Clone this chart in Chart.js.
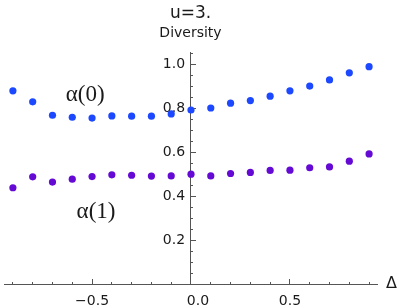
<!DOCTYPE html>
<html>
<head>
<meta charset="utf-8">
<script src="https://cdn.jsdelivr.net/npm/chart.js@4.4.0/dist/chart.umd.min.js"></script>
<style>
  html, body { margin: 0; padding: 0; background: #fff; }
  .chart-box { width: 399px; height: 308px; }
</style>
</head>
<body>
<div class="chart-box"><canvas id="chart"></canvas></div>
<script>
// values
const deltas = [-0.9, -0.8, -0.7, -0.6, -0.5, -0.4, -0.3, -0.2, -0.1, 0.0, 0.1, 0.2, 0.3, 0.4, 0.5, 0.6, 0.7, 0.8, 0.9];
const alpha0 = [0.879, 0.829, 0.768, 0.759, 0.755, 0.765, 0.764, 0.764, 0.774, 0.792, 0.801, 0.823, 0.835, 0.855, 0.879, 0.901, 0.929, 0.961, 0.989];
const alpha1 = [0.438, 0.488, 0.464, 0.477, 0.489, 0.497, 0.495, 0.491, 0.492, 0.500, 0.492, 0.503, 0.508, 0.517, 0.518, 0.529, 0.533, 0.559, 0.592];
const seriesNames = ['α(0)', 'α(1)'];
const xLabelTicks = [-0.5, 0.0, 0.5];
const yLabelTicks = [0.2, 0.4, 0.6, 0.8, 1.0];

const axisColor = '#555';
const textColor = '#1a1a1a';
const tickFont = { family: 'DejaVu Sans', size: 14 };

const toPoints = (ys) => deltas.map((d, i) => ({ x: d, y: ys[i] }));
const near = (v, list) => list.some((t) => Math.abs(t - v) < 1e-6);

// x tick label text; the 0.0 label sits a little right of the crossing axis
const xTickText = (v) => {
  if (!near(v, xLabelTicks)) return '';
  const s = v.toFixed(1).replace('-', '−');
  return Math.abs(v) < 1e-6 ? '\u2003' + s : s;
};

// text labels beside the two series and the axis name
const annotate = {
  id: 'annotate',
  afterDraw(chart) {
    const { ctx, scales } = chart;
    ctx.save();
    ctx.fillStyle = textColor;
    ctx.textAlign = 'center';
    ctx.textBaseline = 'middle';
    ctx.font = '23px "Liberation Serif"';
    ctx.fillText(seriesNames[0], scales.x.getPixelForValue(-0.535), scales.y.getPixelForValue(0.859));
    ctx.fillText(seriesNames[1], scales.x.getPixelForValue(-0.48), scales.y.getPixelForValue(0.33));
    ctx.textAlign = 'left';
    ctx.font = '16px "DejaVu Sans"';
    ctx.fillText('Δ', scales.x.right + 9, scales.y.getPixelForValue(0));
    ctx.restore();
  },
};

const xMin = -0.945, xMax = 0.94, yMin = 0, yMax = 1.055;

new Chart(document.getElementById('chart'), {
  type: 'scatter',
  data: {
    datasets: [
      { label: seriesNames[0], data: toPoints(alpha0), backgroundColor: 'rgb(28, 72, 255)', pointRadius: 3.6, borderWidth: 0 },
      { label: seriesNames[1], data: toPoints(alpha1), backgroundColor: 'rgb(100, 10, 212)', pointRadius: 3.6, borderWidth: 0 },
    ],
  },
  options: {
    responsive: true,
    maintainAspectRatio: false,
    animation: false,
    layout: { padding: { left: 0, right: 22, top: 0, bottom: 24 } },
    plugins: {
      legend: { display: false },
      tooltip: { enabled: false },
      title: {
        display: true,
        text: 'u=3.',
        fullSize: false,
        color: textColor,
        font: { family: 'DejaVu Sans', size: 17, weight: 'normal' },
        padding: { top: 3, bottom: 2 },
      },
      subtitle: {
        display: true,
        text: 'Diversity',
        fullSize: false,
        color: textColor,
        font: { family: 'DejaVu Sans', size: 14 },
        padding: { top: 0, bottom: 10 },
      },
    },
    scales: {
      x: {
        type: 'linear',
        min: xMin,
        max: xMax,
        position: { y: 0 },
        border: { color: axisColor, width: 1 },
        grid: { display: true, drawOnChartArea: false, drawTicks: true, tickLength: -3, tickColor: axisColor },
        ticks: {
          stepSize: 0.1,
          includeBounds: false,
          autoSkip: false,
          maxRotation: 0,
          padding: 12,
          color: textColor,
          font: tickFont,
          callback: xTickText,
        },
      },
      xMajor: {
        type: 'linear',
        axis: 'x',
        min: xMin,
        max: xMax,
        position: { y: 0 },
        border: { display: false },
        grid: { display: true, drawOnChartArea: false, tickLength: -5, tickColor: axisColor },
        ticks: { stepSize: 0.5, includeBounds: false, display: false },
      },
      y: {
        type: 'linear',
        min: yMin,
        max: yMax,
        position: { x: 0 },
        border: { color: axisColor, width: 1 },
        grid: { display: true, drawOnChartArea: false, tickLength: -3, tickColor: axisColor },
        ticks: { stepSize: 0.05, includeBounds: false, autoSkip: false, display: false },
      },
      yMajor: {
        type: 'linear',
        axis: 'y',
        min: yMin,
        max: yMax,
        position: { x: 0 },
        border: { display: false },
        grid: { display: true, drawOnChartArea: false, tickLength: -5, tickColor: axisColor },
        ticks: { stepSize: 0.2, includeBounds: false, display: false },
      },
      yLabels: {
        type: 'linear',
        axis: 'y',
        min: yMin,
        max: yMax,
        position: { x: -0.03 },
        border: { display: false },
        grid: { display: false, drawTicks: false },
        ticks: {
          stepSize: 0.2,
          includeBounds: false,
          autoSkip: false,
          color: textColor,
          font: tickFont,
          callback: (v) => (near(v, yLabelTicks) ? v.toFixed(1) : ''),
        },
      },
    },
  },
  plugins: [annotate],
});
</script>
</body>
</html>
